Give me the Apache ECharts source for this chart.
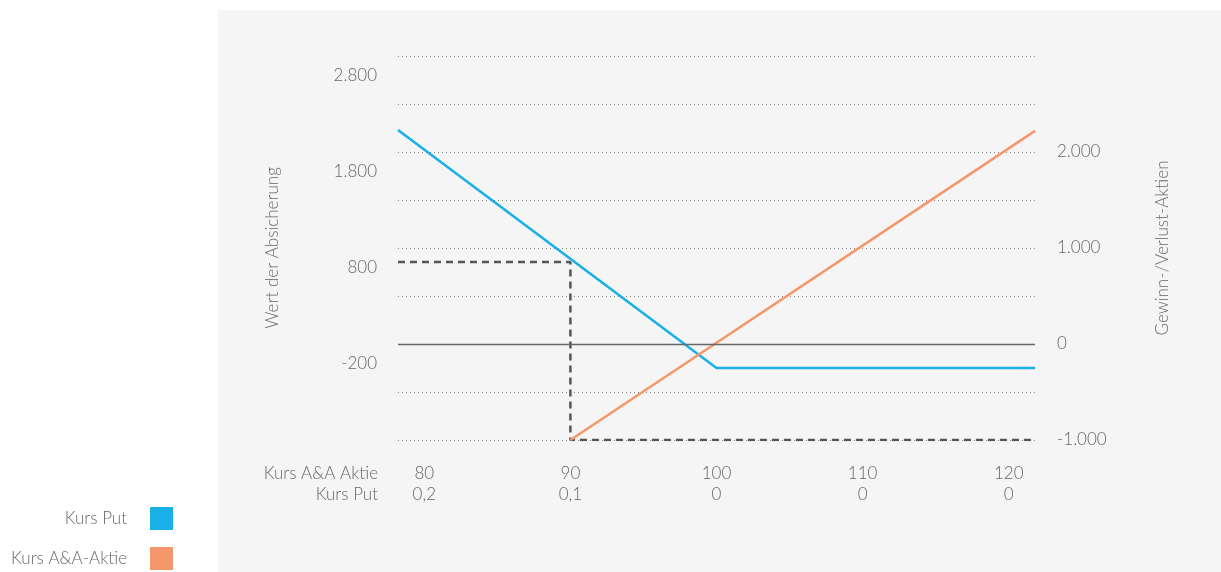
<!DOCTYPE html>
<html>
<head>
<meta charset="utf-8">
<script src="https://cdn.jsdelivr.net/npm/echarts@6/dist/echarts.min.js"></script>
<style>
    html, body { margin: 0; padding: 0; background: #fff; }
    #chart { width: 1221px; height: 572px; }
</style>
</head>
<body>
<div id="chart"></div>
<script>
// x axis labels (two rows)
var stockPrices = [80, 90, 100, 110, 120];
var putPrices = ['0,2', '0,1', '0', '0', '0'];

// Kurs Put (value of the hedge)
var putX = [78.2, 100, 121.8];
var putValue = [2230, -250, -250];

// Kurs A&A-Aktie (profit / loss of the stock)
var stockX = [90, 121.8];
var stockPL = [-1000, 2220];

// dashed guide line
var guideX = [78.2, 90, 90, 121.8];
var guideY = [855, 855, -1000, -1000];

var leftTicks = [-200, 800, 1800, 2800];
var rightTicks = [-1000, 0, 1000, 2000];

function fmt(v) {
    return String(v).replace(/\B(?=(\d{3})+(?!\d))/g, '.');
}
function pairs(xs, ys) {
    return xs.map(function (x, i) { return [x, ys[i]]; });
}

var font = 'Lato, "Open Sans", sans-serif';
var textColor = '#666';
var weight = 300;
var fs = 17;

var chart = echarts.init(document.getElementById('chart'));

var option = {
    animation: false,
    textStyle: { fontFamily: font, fontWeight: weight },
    graphic: [
        {
            type: 'rect', z: -10,
            shape: { x: 218, y: 10, width: 1003, height: 562 },
            style: { fill: '#f5f5f5' }
        },
        {
            type: 'text', x: 378, y: 463,
            style: {
                text: 'Kurs A&A Aktie\nKurs Put',
                align: 'right', lineHeight: 21,
                font: weight + ' ' + fs + 'px ' + font, fill: textColor
            }
        }
    ],
    legend: {
        orient: 'vertical',
        right: 1048,
        top: 507,
        padding: 0,
        align: 'right',
        icon: 'rect',
        itemWidth: 23,
        itemHeight: 23,
        itemGap: 17,
        data: ['Kurs Put', 'Kurs A&A-Aktie'],
        formatter: function (name) { return '{t|' + name + '}'; },
        textStyle: {
            rich: {
                t: { fontSize: fs, color: textColor, fontFamily: font, fontWeight: weight, padding: [0, 18, 0, 0] }
            }
        }
    },
    grid: { left: 398, right: 186, top: 56, bottom: 132 },
    xAxis: {
        type: 'value',
        min: 78.2,
        max: 121.8,
        axisLine: { show: false },
        axisTick: { show: false },
        splitLine: { show: false },
        axisLabel: {
            customValues: stockPrices,
            margin: 23,
            fontSize: fs,
            fontWeight: weight,
            lineHeight: 21,
            color: textColor,
            formatter: function (v) {
                var i = stockPrices.indexOf(v);
                return stockPrices[i] + '\n' + putPrices[i];
            }
        }
    },
    yAxis: [
        {
            type: 'value',
            position: 'left',
            min: -1000,
            max: 3000,
            interval: 500,
            name: 'Wert der Absicherung',
            nameLocation: 'middle',
            nameGap: 117,
            nameRotate: 90,
            nameTextStyle: { fontSize: fs, color: textColor, fontWeight: weight },
            axisLine: { show: false },
            axisTick: { show: false },
            splitLine: { lineStyle: { color: '#888', type: [1, 3], width: 1 } },
            axisLabel: {
                customValues: leftTicks,
                margin: 21,
                fontSize: fs,
                fontWeight: weight,
                color: textColor,
                formatter: fmt
            }
        },
        {
            type: 'value',
            position: 'right',
            min: -1000,
            max: 3000,
            interval: 500,
            name: 'Gewinn-/Verlust-Aktien',
            nameLocation: 'middle',
            nameGap: 119,
            nameRotate: 90,
            nameTextStyle: { fontSize: fs, color: textColor, fontWeight: weight },
            axisLine: { show: false },
            axisTick: { show: false },
            splitLine: { show: false },
            axisLabel: {
                customValues: rightTicks,
                margin: 22,
                fontSize: fs,
                fontWeight: weight,
                color: textColor,
                formatter: fmt
            }
        }
    ],
    series: [
        {
            name: 'Kurs Put',
            type: 'line',
            yAxisIndex: 0,
            data: pairs(putX, putValue),
            symbol: 'none',
            itemStyle: { color: '#19b0e8' },
            lineStyle: { color: '#19b0e8', width: 2.5 },
            markLine: {
                silent: true,
                symbol: 'none',
                label: { show: false },
                lineStyle: { color: '#666', type: 'solid', width: 1.3 },
                data: [{ yAxis: 0 }]
            },
            z: 3
        },
        {
            name: 'Kurs A&A-Aktie',
            type: 'line',
            yAxisIndex: 1,
            data: pairs(stockX, stockPL),
            symbol: 'none',
            itemStyle: { color: '#f4976a' },
            lineStyle: { color: '#f4976a', width: 2.5 },
            z: 3
        },
        {
            name: 'guide',
            type: 'line',
            yAxisIndex: 0,
            data: pairs(guideX, guideY),
            symbol: 'none',
            lineStyle: { color: '#555', width: 2.5, type: [7, 5] },
            z: 2
        }
    ]
};

chart.setOption(option);
</script>
</body>
</html>
